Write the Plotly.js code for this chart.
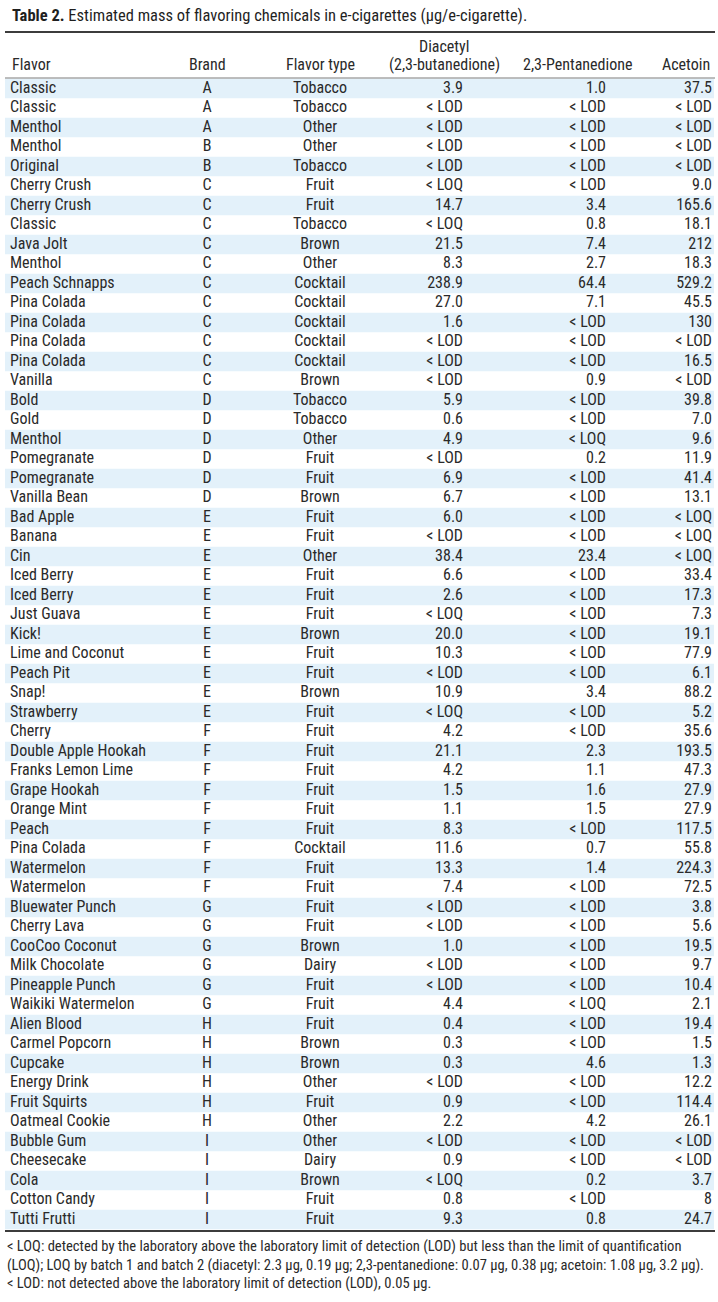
<!DOCTYPE html>
<html>
<head>
<meta charset="utf-8">
<script src="https://cdn.plot.ly/plotly-3.0.1.min.js"></script>
<style>html,body{margin:0;padding:0;background:#fff;}#chart{width:718px;height:1302px;}</style>
</head>
<body>
<div id="chart"></div>
<script>
// ---------- data ----------
const headers = ["Flavor", "Brand", "Flavor type", "Diacetyl", "(2,3-butanedione)", "2,3-Pentanedione", "Acetoin"];

const flavors = ["Classic","Classic","Menthol","Menthol","Original","Cherry Crush","Cherry Crush","Classic","Java Jolt","Menthol",
  "Peach Schnapps","Pina Colada","Pina Colada","Pina Colada","Pina Colada","Vanilla","Bold","Gold","Menthol","Pomegranate",
  "Pomegranate","Vanilla Bean","Bad Apple","Banana","Cin","Iced Berry","Iced Berry","Just Guava","Kick!","Lime and Coconut",
  "Peach Pit","Snap!","Strawberry","Cherry","Double Apple Hookah","Franks Lemon Lime","Grape Hookah","Orange Mint","Peach","Pina Colada",
  "Watermelon","Watermelon","Bluewater Punch","Cherry Lava","CooCoo Coconut","Milk Chocolate","Pineapple Punch","Waikiki Watermelon","Alien Blood","Carmel Popcorn",
  "Cupcake","Energy Drink","Fruit Squirts","Oatmeal Cookie","Bubble Gum","Cheesecake","Cola","Cotton Candy","Tutti Frutti"];

const brands = ["A","A","A","B","B","C","C","C","C","C",
  "C","C","C","C","C","C","D","D","D","D",
  "D","D","E","E","E","E","E","E","E","E",
  "E","E","E","F","F","F","F","F","F","F",
  "F","F","G","G","G","G","G","G","H","H",
  "H","H","H","H","I","I","I","I","I"];

const flavorTypes = ["Tobacco","Tobacco","Other","Other","Tobacco","Fruit","Fruit","Tobacco","Brown","Other",
  "Cocktail","Cocktail","Cocktail","Cocktail","Cocktail","Brown","Tobacco","Tobacco","Other","Fruit",
  "Fruit","Brown","Fruit","Fruit","Other","Fruit","Fruit","Fruit","Brown","Fruit",
  "Fruit","Brown","Fruit","Fruit","Fruit","Fruit","Fruit","Fruit","Fruit","Cocktail",
  "Fruit","Fruit","Fruit","Fruit","Brown","Dairy","Fruit","Fruit","Fruit","Brown",
  "Brown","Other","Fruit","Other","Other","Dairy","Brown","Fruit","Fruit"];

const diacetyl = ["3.9","< LOD","< LOD","< LOD","< LOD","< LOQ","14.7","< LOQ","21.5","8.3",
  "238.9","27.0","1.6","< LOD","< LOD","< LOD","5.9","0.6","4.9","< LOD",
  "6.9","6.7","6.0","< LOD","38.4","6.6","2.6","< LOQ","20.0","10.3",
  "< LOD","10.9","< LOQ","4.2","21.1","4.2","1.5","1.1","8.3","11.6",
  "13.3","7.4","< LOD","< LOD","1.0","< LOD","< LOD","4.4","0.4","0.3",
  "0.3","< LOD","0.9","2.2","< LOD","0.9","< LOQ","0.8","9.3"];

const pentanedione = ["1.0","< LOD","< LOD","< LOD","< LOD","< LOD","3.4","0.8","7.4","2.7",
  "64.4","7.1","< LOD","< LOD","< LOD","0.9","< LOD","< LOD","< LOQ","0.2",
  "< LOD","< LOD","< LOD","< LOD","23.4","< LOD","< LOD","< LOD","< LOD","< LOD",
  "< LOD","3.4","< LOD","< LOD","2.3","1.1","1.6","1.5","< LOD","0.7",
  "1.4","< LOD","< LOD","< LOD","< LOD","< LOD","< LOD","< LOQ","< LOD","< LOD",
  "4.6","< LOD","< LOD","4.2","< LOD","< LOD","0.2","< LOD","0.8"];

const acetoin = ["37.5","< LOD","< LOD","< LOD","< LOD","9.0","165.6","18.1","212","18.3",
  "529.2","45.5","130","< LOD","16.5","< LOD","39.8","7.0","9.6","11.9",
  "41.4","13.1","< LOQ","< LOQ","< LOQ","33.4","17.3","7.3","19.1","77.9",
  "6.1","88.2","5.2","35.6","193.5","47.3","27.9","27.9","117.5","55.8",
  "224.3","72.5","3.8","5.6","19.5","9.7","10.4","2.1","19.4","1.5",
  "1.3","12.2","114.4","26.1","< LOD","< LOD","3.7","8","24.7"];

const titleBold = "Table 2.";
const titleRest = "Estimated mass of flavoring chemicals in e-cigarettes (µg/e-cigarette).";
const footnotes = [
  "< LOQ: detected by the laboratory above the laboratory limit of detection (LOD) but less than the limit of quantification",
  "(LOQ); LOQ by batch 1 and batch 2 (diacetyl: 2.3 µg, 0.19 µg; 2,3-pentanedione: 0.07 µg, 0.38 µg; acetoin: 1.08 µg, 3.2 µg).",
  "< LOD: not detected above the laboratory limit of detection (LOD), 0.05 µg."
];

// ---------- styling / layout constants ----------
const FONT = "'Roboto Condensed', 'Open Sans Condensed', 'Liberation Sans', sans-serif";
const INK = "#2a2a2a";
const SHADE = "#e3f1fa";
const W = 718, H = 1302;
const ROW0 = 88.5, ROWH = 19.5;          // pixel centre of first row, row pitch
const toRow = px => (px - ROW0) / ROWH;   // pixel -> row units on the y axis
const py = px => 1 - px / H;              // pixel -> paper y

const rowIdx = flavors.map((_, i) => i);
const shadeIdx = rowIdx.filter(i => i % 2 === 0);

const colX = { flavor: 10, brand: 207, type: 320, diacetyl: 463, penta: 606, acetoin: 712 };
const cellFont = { family: FONT, size: 16, color: INK };

function textCol(values, x, pos) {
  return {
    type: "scatter", mode: "text", x: values.map(() => x), y: rowIdx, text: values,
    textposition: pos, textfont: cellFont, hoverinfo: "skip", cliponaxis: false, showlegend: false
  };
}

const traces = [
  {
    type: "bar", orientation: "h", y: shadeIdx, x: shadeIdx.map(() => 709), base: 5, width: 1,
    marker: { color: SHADE, line: { width: 0 } }, hoverinfo: "skip", showlegend: false
  },
  textCol(flavors, colX.flavor, "middle right"),
  textCol(brands, colX.brand, "middle center"),
  textCol(flavorTypes, colX.type, "middle center"),
  textCol(diacetyl, colX.diacetyl, "middle left"),
  textCol(pentanedione, colX.penta, "middle left"),
  textCol(acetoin, colX.acetoin, "middle left")
];

function hdr(text, x, ypx, anchor) {
  return { xref: "x", yref: "y", x: x, y: toRow(ypx), xanchor: anchor, yanchor: "middle",
    text: text, showarrow: false, font: cellFont };
}

const annotations = [
  hdr(headers[0], 10, 64, "left"),
  hdr(headers[1], 207, 64, "center"),
  hdr(headers[2], 320, 64, "center"),
  hdr(headers[3], 444, 46, "center"),
  hdr(headers[4], 444, 64, "center"),
  hdr(headers[5], 577, 64, "center"),
  hdr(headers[6], 712, 64, "right"),
  { xref: "x", yref: "paper", x: 10, y: py(15), xanchor: "left", yanchor: "middle", showarrow: false,
    text: "<b>" + titleBold + "</b> " + titleRest, font: { family: FONT, size: 16.5, color: "#1f1f1f" } }
];
const footY = [1246, 1264.5, 1283];
footnotes.forEach((t, i) => annotations.push({
  xref: "x", yref: "paper", x: 5, y: py(footY[i]), xanchor: "left", yanchor: "middle", showarrow: false,
  text: t.replace(/</g, "&lt;"), font: { family: FONT, size: 14.6, color: INK }
}));

const layout = {
  width: W, height: H,
  margin: { l: 0, r: 0, t: 0, b: 0, pad: 0 },
  paper_bgcolor: "#ffffff", plot_bgcolor: "#ffffff",
  showlegend: false, barmode: "overlay",
  xaxis: { range: [0, W], visible: false, fixedrange: true },
  yaxis: { range: [toRow(H), toRow(0)], visible: false, fixedrange: true },
  annotations: annotations,
  shapes: [
    { type: "line", xref: "x", yref: "paper", x0: 5, x1: 715, y0: py(32), y1: py(32), line: { color: "#3c3c3c", width: 2 } },
    { type: "line", xref: "x", yref: "paper", x0: 5, x1: 715, y0: py(78), y1: py(78), line: { color: "#7a7a7a", width: 1 } },
    { type: "line", xref: "x", yref: "paper", x0: 5, x1: 715, y0: py(1231), y1: py(1231), line: { color: "#3c3c3c", width: 2 } }
  ]
};

Plotly.newPlot("chart", traces, layout, { displayModeBar: false, staticPlot: true });
</script>
</body>
</html>
